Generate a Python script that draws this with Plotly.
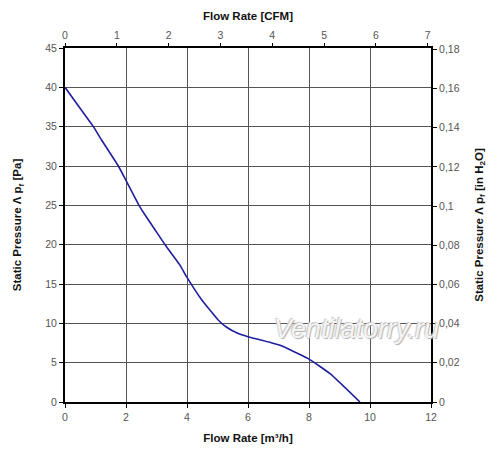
import plotly.graph_objects as go

# Fan curve
flow_m3h = [0, 0.5, 0.93, 1.2, 1.75, 2.02, 2.44, 2.62, 2.95, 3.28, 3.77, 3.99,
            4.48, 5.03, 5.3, 5.68, 6.0, 7.05, 7.96, 8.69, 9.67]
pressure_pa = [40, 37.3, 35, 33.3, 30, 28, 24.9, 23.8, 21.9, 20, 17.4, 15.9,
               13.0, 10.4, 9.5, 8.7, 8.3, 7.2, 5.55, 3.6, 0]

M3H_PER_CFM = 1.699
INH2O_PER_PA = 0.004015

right_vals = [0, 0.02, 0.04, 0.06, 0.08, 0.1, 0.12, 0.14, 0.16, 0.18]
right_text = ['0', '0,02', '0,04', '0,06', '0,08', '0,1', '0,12', '0,14', '0,16', '0,18']

FONT = 'Liberation Sans, Arial, sans-serif'
TICK = dict(family=FONT, size=10.5, color='#555555')
TITLE = dict(family=FONT, size=11.5, color='#111111')

fig = go.Figure()
fig.add_trace(go.Scatter(
    x=flow_m3h, y=pressure_pa, mode='lines',
    line=dict(color='#1f1fa0', width=1.6, shape='spline', smoothing=0.4),
    showlegend=False, hoverinfo='x+y',
))
# invisible helper traces so the secondary axes are drawn
fig.add_trace(go.Scatter(x=[0], y=[0], xaxis='x2', yaxis='y', mode='markers',
                         marker=dict(opacity=0), showlegend=False, hoverinfo='skip'))
fig.add_trace(go.Scatter(x=[0], y=[0], xaxis='x', yaxis='y2', mode='markers',
                         marker=dict(opacity=0), showlegend=False, hoverinfo='skip'))

# page body has an 8px margin, so the figure is shrunk to fit the window
fig.update_layout(
    width=492, height=453,
    margin=dict(l=57, r=69, t=40, b=59),
    paper_bgcolor='white', plot_bgcolor='white',
    font=dict(family=FONT),
    xaxis=dict(
        range=[0, 12], dtick=2, tick0=0, automargin=False,
        showgrid=True, gridcolor='#555555', gridwidth=1,
        zeroline=False, showline=True, linecolor='black', linewidth=2, mirror=False,
        ticks='outside', ticklen=4, tickcolor='black', tickfont=TICK,
        title=dict(text='<b>Flow Rate [m³/h]</b>', font=TITLE, standoff=12),
    ),
    xaxis2=dict(
        overlaying='x', side='top', anchor='y', automargin=False,
        range=[0, 12 / M3H_PER_CFM], dtick=1, tick0=0,
        showgrid=False, zeroline=False, showline=True, linecolor='black', linewidth=2,
        ticks='outside', ticklen=3, tickcolor='black', tickfont=TICK,
        title=dict(text='<b>Flow Rate [CFM]</b>', font=TITLE, standoff=6),
    ),
    yaxis=dict(
        range=[0, 45], dtick=5, tick0=0, automargin=False,
        showgrid=True, gridcolor='#555555', gridwidth=1,
        zeroline=False, showline=True, linecolor='black', linewidth=2,
        ticks='outside', ticklen=4, tickcolor='black', tickfont=TICK,
        title=dict(text='<b>Static Pressure Λ p<sub>f</sub> [Pa]</b>', font=TITLE, standoff=21),
    ),
    yaxis2=dict(
        overlaying='y', side='right', anchor='x', automargin=False,
        range=[0, 45 * INH2O_PER_PA],
        tickvals=right_vals, ticktext=right_text,
        showgrid=False, zeroline=False, showline=True, linecolor='black', linewidth=2,
        ticks='outside', ticklen=4, tickcolor='black', tickfont=TICK,
        title=dict(text='<b>Static Pressure Λ p<sub>f</sub> [in H<sub>2</sub>O]</b>', font=TITLE, standoff=16),
    ),
    annotations=[dict(
        text='<i>Ventilatorry.ru</i>', x=9.55, y=9.3, xref='x', yref='y',
        showarrow=False,
        font=dict(family=FONT, size=27, color='rgba(244,244,244,1)',
                  shadow='1px 1px 1px #b0b0b0, -1px -1px 1px #c8c8c8'),
    )],
)

fig.write_html('out.html')
